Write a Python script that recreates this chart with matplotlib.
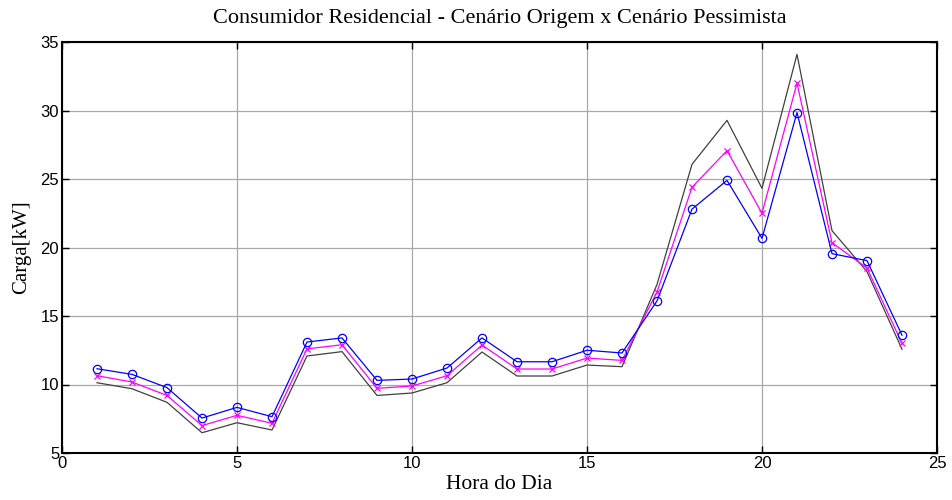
# Carga horária do consumidor residencial: cenário origem x cenário pessimista
import numpy as np
import matplotlib
matplotlib.use("Agg")
import matplotlib.pyplot as plt

horas = list(range(1, 25))

# curvas de carga [kW]
carga_pessimista = [10.13, 9.69, 8.70, 6.48, 7.21, 6.68, 12.08, 12.40, 9.20, 9.38, 10.13, 12.37,
                    10.62, 10.62, 11.42, 11.30, 17.30, 26.07, 29.28, 24.32, 34.10, 21.23, 18.24, 12.57]
carga_media = [10.64, 10.18, 9.20, 7.00, 7.75, 7.17, 12.60, 12.90, 9.72, 9.89, 10.64, 12.88,
               11.13, 11.13, 11.93, 11.76, 16.75, 24.40, 27.07, 22.50, 32.00, 20.35, 18.50, 13.00]
carga_origem = [11.15, 10.74, 9.77, 7.55, 8.33, 7.65, 13.10, 13.40, 10.30, 10.40, 11.20, 13.40,
                11.66, 11.66, 12.50, 12.30, 16.10, 22.80, 24.90, 20.67, 29.85, 19.55, 19.04, 13.60]

fonte_eixo = ['Liberation Sans Narrow', 'Liberation Sans', 'DejaVu Sans']
fonte_texto = ['Liberation Serif', 'DejaVu Serif']

fig = plt.figure(figsize=(9.52, 5.0), dpi=100)
ax = fig.add_axes([62 / 952, 47 / 500, 875 / 952, 411 / 500])

ax.plot(horas, carga_pessimista, color='#404040', lw=0.9)
ax.plot(horas, carga_media, color='#ff00ff', lw=0.9, marker='x', ms=4, mew=0.9)
ax.plot(horas, carga_origem, color='#0000ff', lw=0.9, marker='o', ms=6, mfc='none', mew=0.9)

ax.set_xlim(0, 25)
ax.set_ylim(5, 35)
ax.set_xticks(np.arange(0, 26, 5))
ax.set_yticks(np.arange(5, 36, 5))

ax.grid(True, color='#a8a8a8', lw=0.9, ls='-')
ax.set_axisbelow(True)
ax.tick_params(direction='in', top=True, right=True, length=5, width=1, pad=2)
for lbl in ax.get_xticklabels() + ax.get_yticklabels():
    lbl.set_family(fonte_eixo)
    lbl.set_fontsize(12)
for s in ax.spines.values():
    s.set_linewidth(1.5)

ax.set_title('Consumidor Residencial - Cenário Origem x Cenário Pessimista',
             family=fonte_texto, fontsize=16, pad=14)
ax.set_xlabel('Hora do Dia', family=fonte_texto, fontsize=15.5, labelpad=3)
ax.set_ylabel('Carga[kW]', family=fonte_texto, fontsize=15, labelpad=7)

fig.savefig('out.png', dpi=100)
